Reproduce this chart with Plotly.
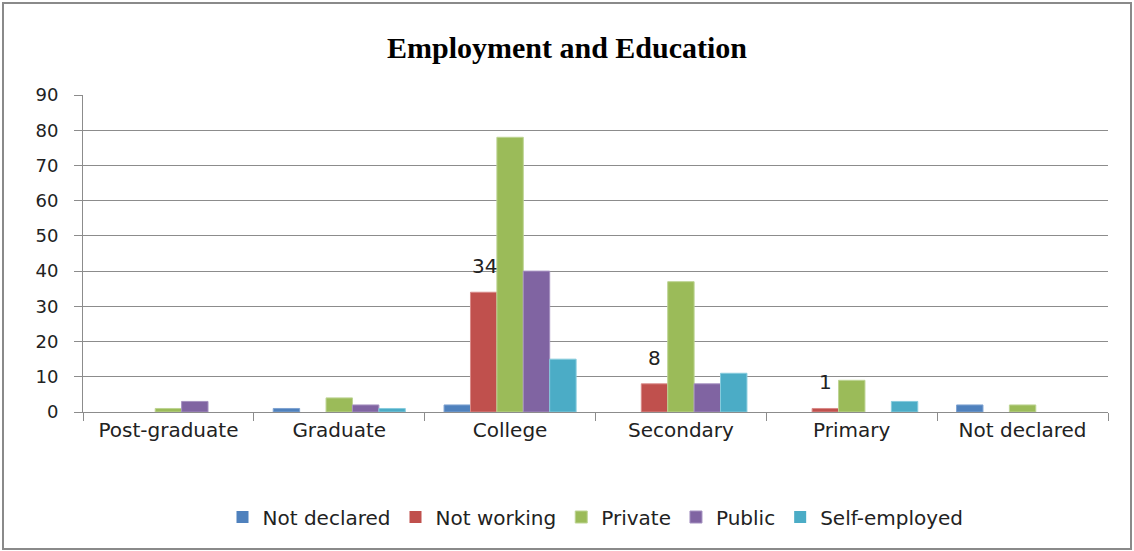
import plotly.graph_objects as go

categories = ["Post-graduate", "Graduate", "College", "Secondary", "Primary", "Not declared"]
series_names = ["Not declared", "Not working", "Private", "Public", "Self-employed"]
not_declared = [0, 1, 2, 0, 0, 2]
not_working = [0, 0, 34, 8, 1, 0]
private = [1, 4, 78, 37, 9, 2]
public = [3, 2, 40, 8, 0, 0]
self_employed = [0, 1, 15, 11, 3, 0]
labelled_categories = ["College", "Secondary", "Primary"]
y_ticks = [0, 10, 20, 30, 40, 50, 60, 70, 80, 90]

colors = ["#4F81BD", "#C0504D", "#9BBB59", "#8064A2", "#4BACC6"]
edge = ["#7FA3D1", "#D88A88", "#BDD493", "#A591C0", "#86CBDD"]
values = [not_declared, not_working, private, public, self_employed]

fig = go.Figure()
for name, vals, c, e in zip(series_names, values, colors, edge):
    fig.add_trace(go.Bar(
        x=categories, y=vals, name=name,
        marker=dict(color=c, line=dict(color=e, width=[1 if v > 0 else 0 for v in vals])),
    ))

font_main = "DejaVu Sans"
for cat in labelled_categories:
    i = categories.index(cat)
    fig.add_annotation(
        x=cat, y=not_working[i], text=str(not_working[i]),
        xref="x", yref="y", showarrow=False,
        xshift=-26, yshift=12, yanchor="bottom",
        font=dict(family=font_main, size=20, color="#222"),
    )

W, H = 1134, 551
L, R, T, B = 83, 26, 95, 139
pw, ph = W - L - R, H - T - B
fig.add_shape(
    type="rect", xref="paper", yref="paper",
    x0=(3 - L) / pw, x1=(W - 3 - L) / pw,
    y0=-(H - 2 - T - ph) / ph, y1=(H - B - 3) / ph,
    line=dict(color="#8a8a8a", width=2), fillcolor="rgba(0,0,0,0)", layer="below",
)

fig.update_layout(
    width=W, height=H,
    margin=dict(l=L, r=R, t=T, b=B),
    paper_bgcolor="white", plot_bgcolor="white",
    barmode="group", bargap=0.227, bargroupgap=0,
    title=dict(text="<b>Employment and Education</b>", x=0.5, xanchor="center",
               y=1 - 47 / H, yanchor="middle",
               font=dict(family="Liberation Serif", size=30, color="black")),
    font=dict(family=font_main, size=18, color="#222"),
    showlegend=True,
    legend=dict(orientation="h", x=0.5, xanchor="center", y=-(517 - 412) / ph,
                yanchor="middle", font=dict(size=20), itemwidth=30,
                traceorder="normal"),
    yaxis=dict(range=[0, 90], tickvals=y_ticks, showgrid=True, gridcolor="#8c8c8c",
               gridwidth=1, showline=True, linecolor="#8c8c8c", linewidth=1,
               ticks="outside", ticklen=8, tickcolor="#8c8c8c",
               ticklabelstandoff=12,
               tickfont=dict(size=18), zeroline=False),
    xaxis=dict(showline=True, linecolor="#8c8c8c", linewidth=1,
               ticks="outside", tickson="boundaries", ticklen=8, tickcolor="#8c8c8c",
               tickfont=dict(size=20), mirror=False),
)

fig.write_html("out.html")
